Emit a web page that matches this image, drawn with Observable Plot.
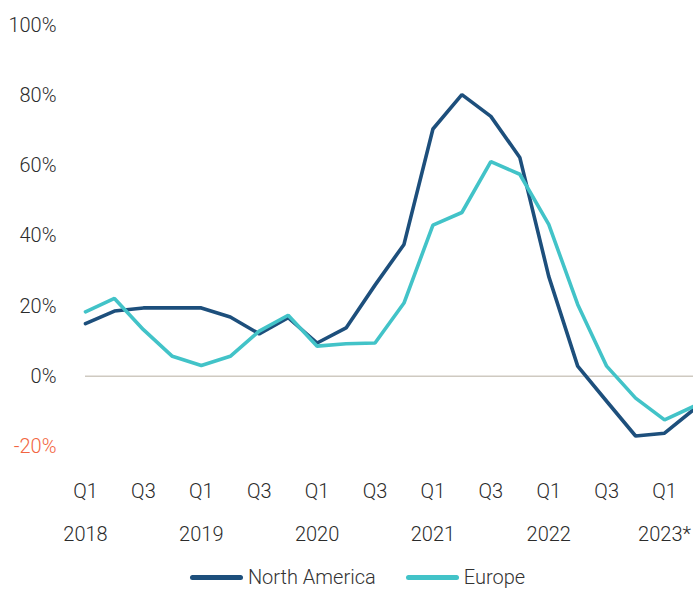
<!DOCTYPE html>
<html>
<head>
<meta charset="utf-8">
<script src="https://cdn.jsdelivr.net/npm/d3@7"></script>
<script src="https://cdn.jsdelivr.net/npm/@observablehq/plot@0.6"></script>
<style>
  body { margin: 0; background: #fff; font-family: Roboto, sans-serif; font-weight: 300; }
  #legend { display: flex; justify-content: center; align-items: center; font-size: 20px; color: #333; margin-top: 5px; height: 24px; padding-left: 22px; }
  .item { display: flex; align-items: center; margin: 0 15px; }
  .sw { display: inline-block; width: 53px; height: 5px; border-radius: 3px; margin-right: 5px; }
</style>
</head>
<body>
<div id="chart"></div>
<div id="legend"></div>
<script>
const quarters = ["Q1","Q2","Q3","Q4","Q1","Q2","Q3","Q4","Q1","Q2","Q3","Q4","Q1","Q2","Q3","Q4","Q1","Q2","Q3","Q4","Q1","Q2"];
const years = ["2018","","","","2019","","","","2020","","","","2021","","","","2022","","","","2023*",""];
const northAmerica = [15, 18.6, 19.5, 19.5, 19.5, 16.9, 12.1, 16.7, 9.5, 13.8, 26, 37.6, 70.5, 80.3, 74.1, 62.4, 28.5, 2.9, -7.1, -17, -16.2, -9.5];
const europe = [18.4, 22.2, 13.3, 5.7, 3.1, 5.7, 12.9, 17.4, 8.6, 9.3, 9.5, 20.9, 43.1, 46.7, 61.2, 57.6, 43.3, 20.5, 2.9, -6.2, -12.4, -8.6];
const seriesNames = ["North America", "Europe"];
const seriesColors = ["#1d4f7c", "#42c3c8"];
const yTicks = [0, 20, 40, 60, 80, 100];
const yNegTicks = [-20];

const data = [];
quarters.forEach((q, i) => {
  data.push({i, v: northAmerica[i], s: seriesNames[0]});
  data.push({i, v: europe[i], s: seriesNames[1]});
});
const qTicks = quarters.map((q, i) => i).filter(i => i % 2 === 0);

const chart = Plot.plot({
  width: 693,
  height: 560,
  marginLeft: 85,
  marginRight: 0,
  marginTop: 25,
  marginBottom: 114,
  style: {fontFamily: "Roboto, sans-serif", fontWeight: 300, fontSize: "20px", color: "#333", background: "#fff", overflow: "visible"},
  x: {domain: [0, quarters.length - 1], axis: null},
  y: {domain: [-20, 100], axis: null},
  color: {domain: seriesNames, range: seriesColors},
  marks: [
    Plot.ruleY([0], {stroke: "#cfcac1", strokeWidth: 1.5}),
    Plot.line(data, {x: "i", y: "v", z: "s", stroke: "s", strokeWidth: 3.6, strokeLinejoin: "miter"}),
    Plot.axisY(yTicks, {label: null, tickSize: 0, tickPadding: 29, tickFormat: d => d + "%", fill: "#2b2b2b", fontSize: 20}),
    Plot.axisY(yNegTicks, {label: null, tickSize: 0, tickPadding: 29, tickFormat: d => d + "%", fill: "#f26541", fontSize: 20}),
    Plot.axisX(qTicks, {label: null, tickSize: 0, tickPadding: 37, tickFormat: i => quarters[i], fill: "#2b2b2b", fontSize: 20}),
    Plot.axisX(qTicks.filter(i => years[i] !== ""), {label: null, tickSize: 0, tickPadding: 80, tickFormat: i => years[i], fill: "#2b2b2b", fontSize: 20})
  ]
});
document.getElementById("chart").appendChild(chart);

const legend = document.getElementById("legend");
seriesNames.forEach((n, k) => {
  const it = document.createElement("span");
  it.className = "item";
  const sw = document.createElement("span");
  sw.className = "sw";
  sw.style.background = seriesColors[k];
  it.appendChild(sw);
  it.appendChild(document.createTextNode(n));
  legend.appendChild(it);
});
</script>
</body>
</html>
